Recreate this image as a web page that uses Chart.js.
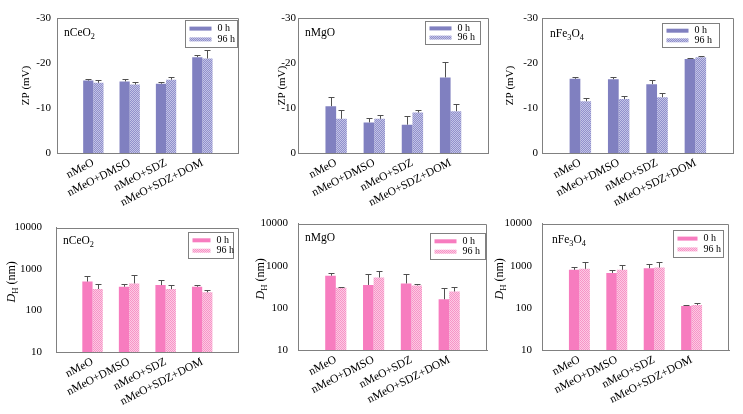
<!DOCTYPE html>
<html>
<head>
<meta charset="utf-8">
<script src="https://cdn.jsdelivr.net/npm/chart.js@4.4.1/dist/chart.umd.min.js"></script>
<style>
  body { margin: 0; background: #fff; }
  #wrap { position: relative; width: 743px; height: 414px; overflow: hidden; background: #fff; }
  #wrap canvas { position: absolute; }
</style>
</head>
<body>
<div id="wrap"></div>
<script>
//--------------------------------------------------
// DADOS
//--------------------------------------------------

const categorias = ['nMeO', 'nMeO+DMSO', 'nMeO+SDZ', 'nMeO+SDZ+DOM'];
const series     = ['0 h', '96 h'];

const zpTicks = [-30, -20, -10, 0];
const dhTicks = [10, 100, 1000, 10000];

// ZP (mV)
const zpCeO2_0h     = [-16.1, -15.9, -15.4, -21.3];
const zpCeO2_0hErr  = [0.4, 0.5, 0.45, 0.5];
const zpCeO2_96h    = [-15.6, -15.2, -16.3, -21.0];
const zpCeO2_96hErr = [0.65, 0.6, 0.6, 1.8];

const zpMgO_0h      = [-10.4, -6.8, -6.3, -16.8];
const zpMgO_0hErr   = [2.0, 1.0, 1.9, 3.5];
const zpMgO_96h     = [-7.6, -7.6, -9.0, -9.3];
const zpMgO_96hErr  = [2.0, 0.9, 0.6, 1.6];

const zpFe3O4_0h     = [-16.5, -16.4, -15.3, -20.9];
const zpFe3O4_0hErr  = [0.5, 0.5, 1.0, 0.2];
const zpFe3O4_96h    = [-11.5, -12.0, -12.4, -21.3];
const zpFe3O4_96hErr = [0.7, 0.6, 0.9, 0.3];

// DH (nm)
const dhCeO2_0h     = [500, 375, 410, 375];
const dhCeO2_0hErr  = [190, 55, 125, 30];
const dhCeO2_96h    = [330, 450, 330, 275];
const dhCeO2_96hErr = [95, 260, 75, 45];

const dhMgO_0h      = [580, 350, 380, 160];
const dhMgO_0hErr   = [75, 280, 240, 130];
const dhMgO_96h     = [300, 525, 340, 245];
const dhMgO_96hErr  = [20, 210, 30, 75];

const dhFe3O4_0h     = [800, 675, 875, 111];
const dhFe3O4_0hErr  = [120, 100, 215, 8];
const dhFe3O4_96h    = [845, 800, 905, 117];
const dhFe3O4_96hErr = [380, 245, 320, 10];

//--------------------------------------------------
// CORES
//--------------------------------------------------

const roxo       = '#8080c0';
const rosa       = '#f77cbf';
const eixoCor    = '#808080';
const fonte      = '"Liberation Serif", "Times New Roman", serif';

function padrao(base, claro) {
  const c = document.createElement('canvas');
  c.width = 2; c.height = 2;
  const g = c.getContext('2d');
  g.fillStyle = base;  g.fillRect(0, 0, 2, 2);
  g.fillStyle = claro; g.fillRect(0, 0, 1, 1); g.fillRect(1, 1, 1, 1);
  return g.createPattern(c, 'repeat');
}

const roxoHach = padrao('#9090cc', '#c4c4e6');
const rosaHach = padrao('#f794c7', '#fccae3');

//--------------------------------------------------
// PAINÉIS (posição na página)
//--------------------------------------------------

const paineis = [
  { tipo: 'zp', rotulo: [['nCeO'], ['2', 1]], d0: zpCeO2_0h, e0: zpCeO2_0hErr, d1: zpCeO2_96h, e1: zpCeO2_96hErr,
    tela: [0, 0, 248, 207], area: [57, 18, 246, 153], tickPad: 6, titX: -32, titY: 0,
    leg: [2, 2, 52, 27, 22], lab: [7, 17.5] },
  { tipo: 'zp', rotulo: [['nMgO']], d0: zpMgO_0h, e0: zpMgO_0hErr, d1: zpMgO_96h, e1: zpMgO_96hErr,
    tela: [250, 0, 248, 207], area: [298, 18, 496, 153], tickPad: 2, titX: -17, titY: 0,
    leg: [9, 3, 55, 23, 22], lab: [7, 17.5] },
  { tipo: 'zp', rotulo: [['nFe'], ['3', 1], ['O'], ['4', 1]], d0: zpFe3O4_0h, e0: zpFe3O4_0hErr, d1: zpFe3O4_96h, e1: zpFe3O4_96hErr,
    tela: [488, 0, 255, 207], area: [542, 18, 742, 153], tickPad: 4, titX: -33, titY: 0,
    leg: [15, 5, 57, 24, 22], lab: [8, 19] },
  { tipo: 'dh', rotulo: [['nCeO'], ['2', 1]], d0: dhCeO2_0h, e0: dhCeO2_0hErr, d1: dhCeO2_96h, e1: dhCeO2_96hErr,
    tela: [0, 207, 248, 207], area: [56, 218, 245, 352], tickPad: 14, titX: -45, titY: -8,
    leg: [6, 4, 45, 26, 18], lab: [7, 16] },
  { tipo: 'dh', rotulo: [['nMgO']], d0: dhMgO_0h, e0: dhMgO_0hErr, d1: dhMgO_96h, e1: dhMgO_96hErr,
    tela: [250, 207, 248, 207], area: [298, 215, 487, 350], tickPad: 10, titX: -38, titY: -8,
    leg: [2, 9, 55, 26, 22], lab: [7, 17] },
  { tipo: 'dh', rotulo: [['nFe'], ['3', 1], ['O'], ['4', 1]], d0: dhFe3O4_0h, e0: dhFe3O4_0hErr, d1: dhFe3O4_96h, e1: dhFe3O4_96hErr,
    tela: [488, 207, 255, 207], area: [542, 214, 729, 350], tickPad: 10, titX: -43, titY: -8,
    leg: [6, 6, 50, 27, 20], lab: [10, 19] }
];

//--------------------------------------------------
// TEXTO COM SUBSCRITO
//--------------------------------------------------

function textoRico(ctx, partes, x, y, tam, alinhar) {
  const medir = p => {
    ctx.font = (p[2] ? 'italic ' : '') + (p[1] ? tam * 0.72 : tam) + 'px ' + fonte;
    return ctx.measureText(p[0]).width;
  };
  let total = 0;
  partes.forEach(p => { total += medir(p); });
  let cx = alinhar === 'center' ? x - total / 2 : x;
  ctx.textAlign = 'left';
  ctx.textBaseline = 'alphabetic';
  partes.forEach(p => {
    const w = medir(p);
    ctx.fillText(p[0], cx, p[1] ? y + tam * 0.28 : y);
    cx += w;
  });
}

//--------------------------------------------------
// PLUGIN: barras de erro, moldura, legenda, rótulos
//--------------------------------------------------

function decoracao(p) {
  return {
    id: 'decoracao',
    afterDatasetsDraw(chart) {
      const ctx = chart.ctx;
      const ys  = chart.scales.y;
      ctx.save();
      ctx.strokeStyle = '#505050';
      ctx.lineWidth = 1;
      chart.data.datasets.forEach((ds, di) => {
        chart.getDatasetMeta(di).data.forEach((bar, i) => {
          const v = ds.data[i];
          if (v === null) return;
          const e = ds.erros[i];
          const fim = ys.getPixelForValue(v < 0 ? v - e : v + e);
          const bx = Math.round(bar.x) + 0.5;
          const fy = Math.round(fim) + 0.5;
          ctx.beginPath();
          ctx.moveTo(bx, bar.y);
          ctx.lineTo(bx, fy);
          ctx.moveTo(bx - 3, fy);
          ctx.lineTo(bx + 3, fy);
          ctx.stroke();
        });
      });
      ctx.restore();
    },
    afterDraw(chart) {
      const ctx = chart.ctx;
      const a   = chart.chartArea;
      ctx.save();

      // moldura superior e direita
      ctx.strokeStyle = eixoCor;
      ctx.lineWidth = 1;
      ctx.beginPath();
      ctx.moveTo(Math.round(a.left), Math.round(a.top) + 0.5);
      ctx.lineTo(Math.round(a.right) - 0.5, Math.round(a.top) + 0.5);
      ctx.lineTo(Math.round(a.right) - 0.5, Math.round(a.bottom));
      ctx.stroke();

      // legenda
      const [lr, lt, lw, lh, sw] = p.leg;
      const bx = Math.round(a.right - lr - lw) + 0.5;
      const by = Math.round(a.top + lt) + 0.5;
      ctx.strokeStyle = eixoCor;
      ctx.strokeRect(bx, by, lw, lh);
      const cores = chart.data.datasets.map(d => d.backgroundColor);
      [0.3, 0.7].forEach((f, k) => {
        const ry = by + lh * f;
        ctx.fillStyle = cores[k];
        ctx.fillRect(bx + 4, ry - 2, sw, 4);
        ctx.fillStyle = '#000';
        ctx.font = '10px ' + fonte;
        ctx.textAlign = 'left';
        ctx.textBaseline = 'middle';
        ctx.fillText(series[k], bx + 4 + sw + 6, ry);
      });

      // rótulo do painel
      ctx.fillStyle = '#000';
      textoRico(ctx, p.rotulo, a.left + p.lab[0], a.top + p.lab[1], 11.5, 'left');

      // título do eixo y
      ctx.translate(a.left + p.titX, (a.top + a.bottom) / 2 + p.titY);
      ctx.rotate(-Math.PI / 2);
      const titulo = p.tipo === 'zp'
        ? [['ZP (mV)']]
        : [['D', 0, 1], ['H', 1], [' (nm)']];
      textoRico(ctx, titulo, 0, 4, p.tipo === 'zp' ? 11 : 12, 'center');

      ctx.restore();
    }
  };
}

//--------------------------------------------------
// MONTA OS GRÁFICOS
//--------------------------------------------------

const wrap = document.getElementById('wrap');

paineis.forEach(p => {
  const [tx, ty, tw, th] = p.tela;
  const [al, at, ar, ab] = p.area;

  const canvas = document.createElement('canvas');
  canvas.width  = tw;
  canvas.height = th;
  canvas.style.left = tx + 'px';
  canvas.style.top  = ty + 'px';
  wrap.appendChild(canvas);

  const zp = p.tipo === 'zp';
  const ticksY = zp ? zpTicks : dhTicks;

  const yEscala = zp
    ? { type: 'linear', min: -30, max: 0, reverse: true }
    : { type: 'logarithmic', min: 10, max: 10000 };

  new Chart(canvas, {
    type: 'bar',
    data: {
      labels: ['', ...categorias, ''],
      datasets: [
        {
          label: series[0],
          data: [null, ...p.d0, null],
          erros: [0, ...p.e0, 0],
          backgroundColor: zp ? roxo : rosa,
          borderWidth: 0
        },
        {
          label: series[1],
          data: [null, ...p.d1, null],
          erros: [0, ...p.e1, 0],
          backgroundColor: zp ? roxoHach : rosaHach,
          borderWidth: 0
        }
      ]
    },
    options: {
      responsive: false,
      animation: false,
      events: [],
      layout: { padding: { left: 0, top: at - ty, right: tx + tw - ar, bottom: 0 } },
      datasets: { bar: { categoryPercentage: 0.56, barPercentage: 1 } },
      plugins: { legend: { display: false }, tooltip: { enabled: false } },
      scales: {
        x: {
          offset: false,
          grid: { display: false, drawTicks: false },
          border: { display: true, color: eixoCor, width: 1 },
          ticks: {
            autoSkip: false,
            minRotation: 27,
            maxRotation: 27,
            padding: 3,
            color: '#000',
            font: { family: fonte, size: 11.5 }
          },
          afterFit: s => { s.height = ty + th - ab; }
        },
        y: {
          ...yEscala,
          grid: { display: false, drawTicks: false },
          border: { display: true, color: eixoCor, width: 1 },
          afterBuildTicks: s => { s.ticks = ticksY.map(v => ({ value: v })); },
          ticks: {
            padding: p.tickPad,
            color: '#000',
            font: { family: fonte, size: 11 },
            callback: v => String(v)
          },
          afterFit: s => { s.width = al - tx; }
        }
      }
    },
    plugins: [decoracao(p)]
  });
});
</script>
</body>
</html>
